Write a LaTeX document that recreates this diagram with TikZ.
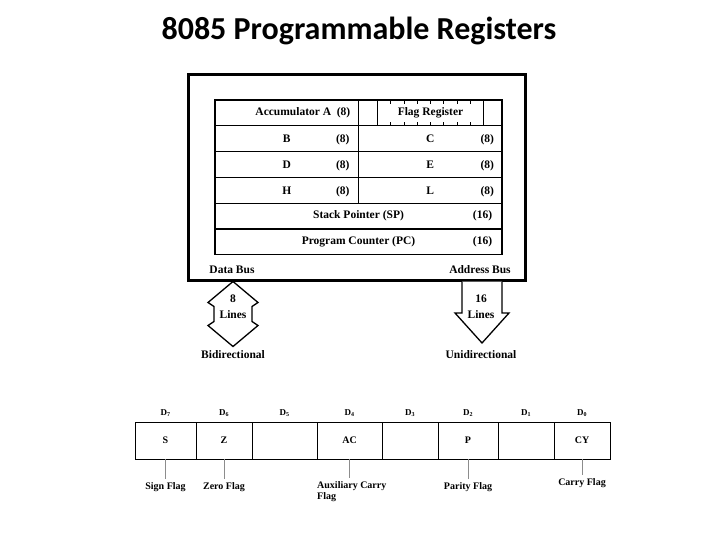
\documentclass[tikz,border=0pt]{standalone}
\usepackage{fontspec}
\setmainfont{Liberation Serif}
\newfontfamily\titlefont{Carlito}
\usetikzlibrary{positioning}

\begin{document}
\begin{tikzpicture}[x=1pt, y=-1pt, node distance=0pt]
    \tikzset{
        cell/.style={draw, line width=1.2pt, inner sep=0pt, outer sep=0pt, minimum height=25.8pt, font=\fontsize{11.5}{13}\selectfont\bfseries},
        half/.style={cell, minimum width=143.5pt},
        wide/.style={cell, minimum width=287pt},
        size/.style={font=\fontsize{11.5}{16}\selectfont\bfseries, inner sep=0pt},
        busarrow/.style={draw, line width=1.3pt, fill=white, line join=miter},
        bit/.style={draw, line width=0.9pt, inner sep=0pt, outer sep=0pt, minimum height=37pt, font=\fontsize{10}{12}\selectfont\bfseries},
        bitlbl/.style={font=\fontsize{9}{11}\selectfont\bfseries, inner sep=1pt},
        flaglbl/.style={font=\fontsize{10}{11}\selectfont\bfseries, inner sep=3pt},
        leader/.style={draw=black!45, line width=0.6pt}
    }
    \useasboundingbox (0,0) rectangle (720,540);

    \node [font=\titlefont\bfseries\fontsize{32}{36}\selectfont] (title) at (359,31) {8085 Programmable Registers};

    \node [draw, line width=3pt, minimum width=337pt, minimum height=205pt, inner sep=0pt, outer sep=0pt, anchor=north west] (frame) at (188,75) {};

    \node [half, anchor=north west] (acc) at (215,100) {};
    \node [size, anchor=east] at ([xshift=-8pt]acc.east) {Accumulator A\ \ (8)};
    \node [half, right=of acc] (flagcell) {};
    \node [cell, minimum width=106pt, anchor=north west] (flagreg) at ([xshift=19pt]flagcell.north west) {Flag Register};
    \foreach \i in {1,...,7} {
        \draw [line width=1pt] ([xshift=\i*13.25pt]flagreg.north west) -- ++(0,4);
        \draw [line width=1pt] ([xshift=\i*13.25pt]flagreg.south west) -- ++(0,-4);
    }
    \node [half, below=of acc] (regB) {B};
    \node [size, anchor=base] at ([xshift=56pt]regB.base) {(8)};
    \node [half, right=of regB] (regC) {C};
    \node [size, anchor=base] at ([xshift=57pt]regC.base) {(8)};
    \node [half, below=of regB] (regD) {D};
    \node [size, anchor=base] at ([xshift=56pt]regD.base) {(8)};
    \node [half, right=of regD] (regE) {E};
    \node [size, anchor=base] at ([xshift=57pt]regE.base) {(8)};
    \node [half, below=of regD] (regH) {H};
    \node [size, anchor=base] at ([xshift=56pt]regH.base) {(8)};
    \node [half, right=of regH] (regL) {L};
    \node [size, anchor=base] at ([xshift=57pt]regL.base) {(8)};
    \node [wide, anchor=north west] (sp) at (regH.south west) {Stack Pointer (SP)};
    \node [size, anchor=base] at ([xshift=124pt]sp.base) {(16)};
    \node [wide, below=of sp] (pc) {Program Counter (PC)};
    \node [size, anchor=base] at ([xshift=124pt]pc.base) {(16)};

    \node [size] (dbus) at (232,270) {Data Bus};
    \node [size] (abus) at (480,270) {Address Bus};

    \coordinate (dtip) at (233,281.5);
    \path [busarrow] (dtip) -- ++(-25,21) -- ++(6,4) -- ++(0,15) -- ++(-6,4) -- ++(25,21)
        -- ++(25,-21) -- ++(-6,-4) -- ++(0,-15) -- ++(6,-4) -- cycle;
    \node [size, align=center] (dlines) at (233,307) {8\\Lines};
    \node [size] (bidir) at (233,355) {Bidirectional};

    \coordinate (atop) at (482,281.5);
    \path [busarrow] ([xshift=-20pt]atop) -- ++(0,31.5) -- ++(-7,0) -- ++(27,30) -- ++(27,-30)
        -- ++(-7,0) -- ++(0,-31.5);
    \node [size, align=center] (alines) at (481,307) {16\\Lines};
    \node [size] (unidir) at (481,355) {Unidirectional};

    \node [bit, minimum width=61pt, anchor=north west] (b7) at (135,422) {S};
    \node [bit, minimum width=56pt, right=of b7] (b6) {Z};
    \node [bit, minimum width=65pt, right=of b6] (b5) {};
    \node [bit, minimum width=65pt, right=of b5] (b4) {AC};
    \node [bit, minimum width=56pt, right=of b4] (b3) {};
    \node [bit, minimum width=60pt, right=of b3] (b2) {P};
    \node [bit, minimum width=56pt, right=of b2] (b1) {};
    \node [bit, minimum width=56pt, right=of b1] (b0) {CY};
    \foreach \b in {0,...,7}
        \node [bitlbl, above=4pt of b\b] {D\textsubscript{\b}};

    \node [flaglbl, below=20pt of b7] (fsign) {Sign Flag};
    \node [flaglbl, below=20pt of b6] (fzero) {Zero Flag};
    \node [flaglbl, align=left, inner sep=0pt, anchor=north west] (faux) at ([yshift=-22pt]b4.south west) {Auxiliary Carry\\Flag};
    \node [flaglbl, below=20pt of b2] (fpar) {Parity Flag};
    \node [flaglbl, below=16pt of b0] (fcy) {Carry Flag};
    \draw [leader] (b7) -- (fsign);
    \draw [leader] (b6) -- (fzero);
    \draw [leader] (b4.south) -- ([yshift=3pt]b4.south |- faux.north);
    \draw [leader] (b2) -- (fpar);
    \draw [leader] (b0) -- (fcy);
\end{tikzpicture}
\end{document}
